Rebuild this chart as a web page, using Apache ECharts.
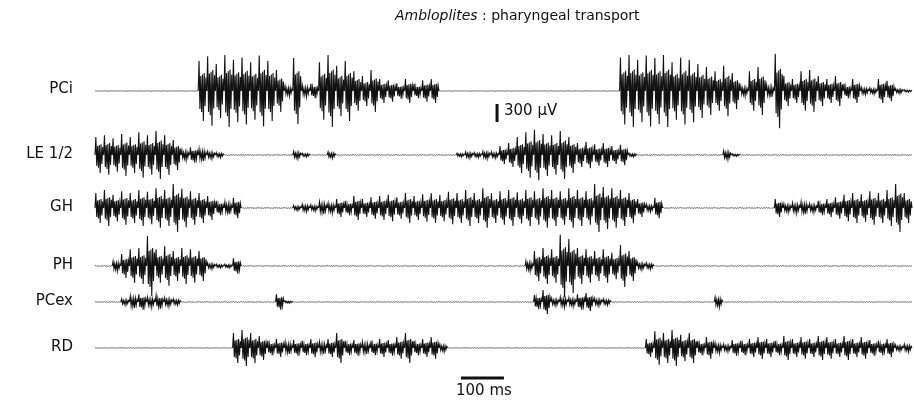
<!DOCTYPE html>
<html><head><meta charset="utf-8">
<script src="https://cdn.jsdelivr.net/npm/echarts@6/dist/echarts.min.js"></script>
<style>html,body{margin:0;padding:0;background:#fff}#c{width:914px;height:404px}</style>
</head><body><div id="c"></div>
<script>
// ---- data (amplitude envelope in µV, one value per 20 ms bin) ----
const channelNames = ['PCi', 'LE 1/2', 'GH', 'PH', 'PCex', 'RD'];
const binMs = 20;
const pciAmp = [5,6,5,5,6,5,5,6,5,5,6,5,
  500,580,450,600,520,560,480,590,500,350,
  80,550,90,120,480,600,420,500,
  330,250,350,200,180,130,200,120,180,200,
  5,5,5,5,5,5,5,5,5,5,5,5,5,5,5,5,5,5,5,5,5,
  560,600,520,590,550,600,480,560,520,450,
  400,330,420,300,
  80,330,400,100,620,250,200,330,350,
  250,200,250,120,200,60,50,200,170,40,20];
const leAmp = [300,330,280,350,300,380,330,400,330,250,
  80,130,100,60,40,
  10,10,10,10,10,10,10,10,
  60,30,10,10,50,
  10,10,10,10,10,10,10,10,10,10,10,10,10,10,
  30,50,40,60,50,
  150,200,300,380,420,350,330,400,300,200,220,180,200,150,170,
  30,
  12,12,12,12,12,12,12,12,12,12,
  70,20,
  10,10,10,10,10,10,10,10,10,10,10,10,10,10,10,10,10,10,10,10];
const ghAmp = [250,300,220,280,250,300,270,330,300,400,320,280,250,200,
  120,100,170,
  10,10,10,10,10,10,
  40,60,50,100,80,150,120,200,150,180,200,220,180,250,200,230,250,220,270,250,
  300,250,330,250,280,300,260,300,280,330,300,280,330,300,280,400,350,330,300,250,
  150,60,170,
  10,10,10,10,10,10,10,10,10,10,10,10,10,
  150,70,80,100,70,120,150,180,220,250,230,280,250,300,400,250];
const phAmp = [10,10,
  80,200,280,300,500,280,330,250,300,280,250,50,30,30,130,
  10,10,10,10,10,10,10,10,10,10,10,10,10,10,10,10,10,10,10,10,10,10,10,10,10,10,10,10,10,10,10,10,10,
  80,250,300,280,520,450,300,280,250,280,220,350,250,60,50,
  10,10,10,10,10,10,10,10,10,10,10,10,10,10,10,10,10,10,10,10,10,10,10,10,10,10,10,10,10,10];
const pcexAmp = [8,8,8,
  50,100,130,80,110,70,50,
  10,10,10,10,10,10,10,10,10,10,10,
  130,20,
  8,8,8,8,8,8,8,8,8,8,8,8,8,8,8,8,8,8,8,8,8,8,8,8,8,8,8,8,
  120,200,60,80,70,130,150,60,50,
  8,8,8,8,8,8,8,8,8,8,8,8,
  80,
  8,8,8,8,8,8,8,8,8,8,8,8,8,8,8,8,8,8,8,8,8,8];
const rdAmp = [6,6,6,6,6,6,6,6,6,6,6,6,6,6,6,6,
  250,300,250,200,120,150,100,130,120,150,100,150,250,120,130,100,120,150,130,180,250,120,150,180,60,
  6,6,6,6,6,6,6,6,6,6,6,6,6,6,6,6,6,6,6,6,6,6,6,
  150,280,250,300,220,250,120,180,80,60,130,120,150,180,150,120,200,150,180,150,200,180,150,200,150,180,130,120,150,50,60];
const scaleBarUV = 300;
const scaleBarMs = 100;
const titleItalic = 'Ambloplites';
const titleRest = ' : pharyngeal transport';

// ---- layout (positions / styles) ----
const channelAmps = [pciAmp, leAmp, ghAmp, phAmp, pcexAmp, rdAmp];
const baselineUV = [-850, -1917, -2800, -3767, -4367, -5133];
const labelY = [90, 155, 208, 266, 302, 348];
const FONT = 'DejaVu Sans';
const INK = '#111';
const uvBarPos = [935, -1067];
const msBarPos = [851, -5633];
// stroke shape inside one bin: a tall spike pair framed by a denser, lower core
const strokeShape = [0, 1, -0.6, 0.5, -0.7, 0.55, -1, 0.6, -0.5, 0.45, 0];

function zigzag(off) {
  return function (params, api) {
    const t0 = api.value(0), a = api.value(1);
    const n = strokeShape.length - 1;
    const pts = strokeShape.map((k, j) => api.coord([t0 + binMs * j / n, off + k * a]));
    const quiet = a < 20;
    return { type: 'polyline', shape: { points: pts },
      style: { stroke: quiet ? '#444' : INK, lineWidth: quiet ? 0.8 : 1.1, fill: null } };
  };
}

const series = channelAmps.map((amps, c) => ({
  type: 'custom', name: channelNames[c], silent: true,
  renderItem: zigzag(baselineUV[c]),
  data: amps.map((a, i) => [i * binMs, a])
}));

series.push({
  type: 'custom', silent: true,
  renderItem: (params, api) => {
    const v = api.value(0);
    const p1 = api.coord([uvBarPos[0], uvBarPos[1]]);
    const p2 = api.coord([uvBarPos[0], uvBarPos[1] - v]);
    return { type: 'line', shape: { x1: p1[0], y1: p1[1], x2: p2[0], y2: p2[1] }, style: { stroke: INK, lineWidth: 3 } };
  },
  data: [[scaleBarUV]]
});
series.push({
  type: 'custom', silent: true,
  renderItem: (params, api) => {
    const v = api.value(0);
    const p1 = api.coord([msBarPos[0], msBarPos[1]]);
    const p2 = api.coord([msBarPos[0] + v, msBarPos[1]]);
    return { type: 'line', shape: { x1: p1[0], y1: p1[1], x2: p2[0], y2: p2[1] }, style: { stroke: INK, lineWidth: 3 } };
  },
  data: [[scaleBarMs]]
});

const graphics = channelNames.map((n, c) => ({
  type: 'text', right: 914 - 73, top: labelY[c] - 8,
  style: { text: n, font: '15px ' + FONT, fill: INK }
}));
graphics.push({ type: 'text', left: 504, top: 104, style: { text: scaleBarUV + ' μV', font: '15px ' + FONT, fill: INK } });
graphics.push({ type: 'text', left: 456, top: 384, style: { text: scaleBarMs + ' ms', font: '15px ' + FONT, fill: INK } });

const chart = echarts.init(document.getElementById('c'), null, { renderer: 'canvas' });
chart.setOption({
  animation: false,
  backgroundColor: '#fff',
  title: {
    text: '{i|' + titleItalic + '}' + titleRest,
    left: 390, top: 4,
    textStyle: {
      fontFamily: FONT, fontSize: 14, fontWeight: 'normal', color: INK,
      rich: { i: { fontStyle: 'italic', fontFamily: FONT, fontSize: 14, color: INK } }
    }
  },
  grid: { left: 95, right: 2, top: 40, height: 340 },
  xAxis: { type: 'value', min: 0, max: 1900, show: false },
  yAxis: { type: 'value', min: -5667, max: 0, show: false },
  series: series,
  graphic: graphics
});
</script></body></html>
